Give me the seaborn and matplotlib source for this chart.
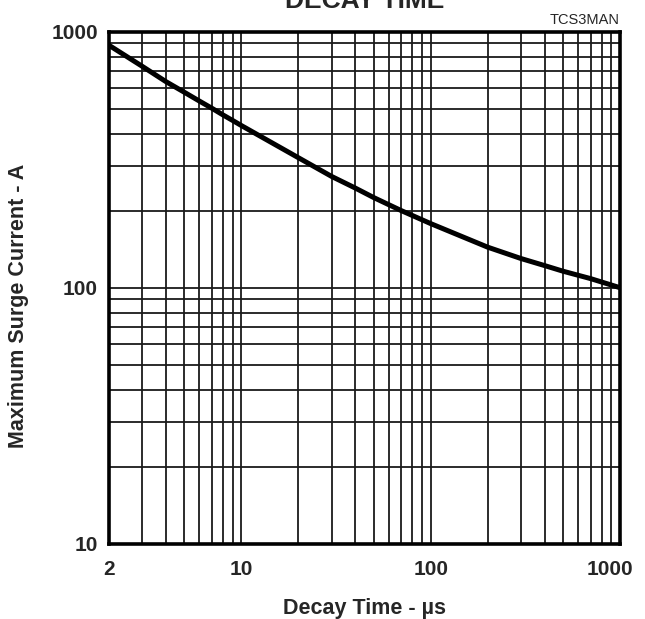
import numpy as np
import pandas as pd
import seaborn as sns
import matplotlib
matplotlib.use("Agg")
import matplotlib.pyplot as plt
from matplotlib.ticker import FixedLocator, NullFormatter, FixedFormatter
import matplotlib.transforms as mtransforms

# Data
decay_time_us = [2, 3, 4, 5, 6, 7, 8, 9, 10, 20, 30, 40, 50, 70, 100, 200, 300, 400, 500, 700, 1000]
max_surge_current_a = [885, 732, 638, 580, 536, 502, 473, 450, 430, 322, 272, 245, 225, 200, 178, 144, 130, 122, 116, 108.5, 100]

x_major = [2, 10, 100, 1000]
x_major_labels = ["2", "10", "100", "1000"]
y_major = [10, 100, 1000]
y_major_labels = ["10", "100", "1000"]

title_text = "DECAY TIME"
corner_text = "TCS3MAN"
x_label = "Decay Time - µs"
y_label = "Maximum Surge Current - A"

df = pd.DataFrame({"t": decay_time_us, "i": max_surge_current_a})

sns.set_style("white")
plt.rcParams["font.family"] = ["Liberation Sans", "DejaVu Sans"]

fig = plt.figure(figsize=(6.45, 6.19), dpi=100)
ax = fig.add_axes([109 / 645, 1 - 543.7 / 619, (620 - 109) / 645, (543.7 - 31.7) / 619])

sns.lineplot(data=df, x="t", y="i", ax=ax, color="black", linewidth=3.6, zorder=5)

ax.set_xscale("log")
ax.set_yscale("log")
ax.set_xlim(2, 1000)
ax.set_ylim(10, 1000)

x_minor = [m * d for d in (1, 10, 100) for m in range(2, 10) if 2 < m * d < 1000 and m * d not in x_major]
y_minor = [m * d for d in (10, 100) for m in range(2, 10)]
ax.xaxis.set_major_locator(FixedLocator(x_major))
ax.xaxis.set_major_formatter(FixedFormatter(x_major_labels))
ax.xaxis.set_minor_locator(FixedLocator(x_minor))
ax.xaxis.set_minor_formatter(NullFormatter())
ax.yaxis.set_major_locator(FixedLocator(y_major))
ax.yaxis.set_major_formatter(FixedFormatter(y_major_labels))
ax.yaxis.set_minor_locator(FixedLocator(y_minor))
ax.yaxis.set_minor_formatter(NullFormatter())

ax.grid(True, which="both", color="#1a1a1a", linewidth=1.3)
ax.set_axisbelow(True)
for s in ax.spines.values():
    s.set_visible(True)
    s.set_color("black")
    s.set_linewidth(2.6)

ax.tick_params(axis="both", which="both", length=0)
ax.tick_params(axis="x", which="major", pad=12, labelsize=15)
ax.tick_params(axis="y", which="major", pad=8, labelsize=15)
for lab in ax.get_xticklabels() + ax.get_yticklabels():
    lab.set_fontweight("bold")
# nudge last x label left, as in the reference
xl = ax.get_xticklabels()
xl[-1].set_transform(xl[-1].get_transform() + mtransforms.ScaledTranslation(-10 / 100, 0, fig.dpi_scale_trans))

ax.set_xlabel(x_label, fontsize=15.5, fontweight="bold")
ax.set_ylabel(y_label, fontsize=15.5, fontweight="bold")
ax.xaxis.set_label_coords(0.5, -0.106)
ax.yaxis.set_label_coords(-0.156, 0.464)

fig.text(365 / 645, 1 - 8 / 619, title_text, ha="center", va="baseline",
         fontsize=19, fontweight="bold")
fig.text(620 / 645, 1 - 20 / 619, corner_text, ha="right", va="center", fontsize=10.5)

fig.savefig("out.png", dpi=100)
